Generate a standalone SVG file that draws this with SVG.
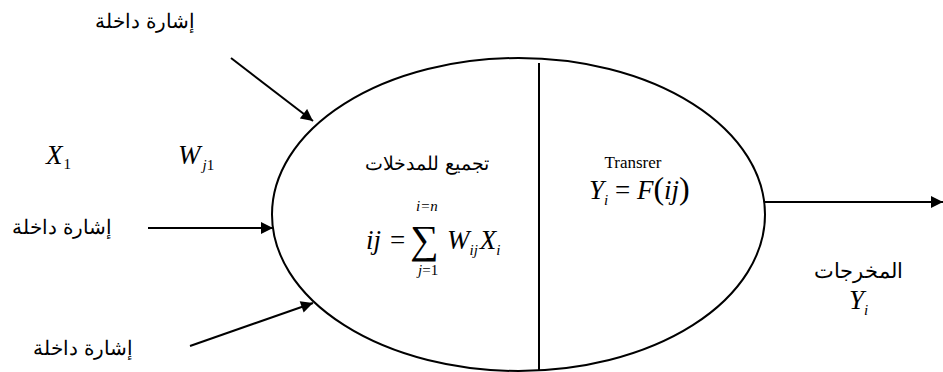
<svg xmlns="http://www.w3.org/2000/svg" width="943" height="372" viewBox="0 0 943 372">
<defs>
<style>
.ar{font-family:"Liberation Sans","Noto Sans",Arial,sans-serif;font-size:20px;fill:#000;}
.m{font-family:"Liberation Serif","Times New Roman",serif;font-size:27px;font-style:italic;fill:#000;}
.mr{font-family:"Liberation Serif","Times New Roman",serif;font-size:27px;font-style:normal;fill:#000;}
.s{font-family:"Liberation Serif","Times New Roman",serif;font-size:15px;font-style:italic;fill:#000;}
.sr{font-family:"Liberation Serif","Times New Roman",serif;font-size:15px;font-style:normal;fill:#000;}
.ln{stroke:#000;stroke-width:2;fill:none;}
</style>
<marker id="ah" viewBox="0 0 10 10" refX="10" refY="5" markerWidth="6.5" markerHeight="6" orient="auto" markerUnits="strokeWidth">
<path d="M0,0 L10,5 L0,10 z" fill="#000"/>
</marker>
</defs>
<rect width="943" height="372" fill="#fff"/>
<g id="neuron">
<ellipse cx="518.5" cy="214.5" rx="246.5" ry="156.5" class="ln"/>
<line x1="539" y1="63" x2="539" y2="371" class="ln"/>
</g>
<g id="connectors">
<line x1="231" y1="58" x2="313" y2="121" class="ln" marker-end="url(#ah)"/>
<line x1="148" y1="228" x2="273" y2="228" class="ln" marker-end="url(#ah)"/>
<line x1="190" y1="346" x2="313" y2="303" class="ln" marker-end="url(#ah)"/>
<line x1="765" y1="202" x2="943" y2="202" class="ln" marker-end="url(#ah)"/>
</g>
<g id="input-labels">
<text class="ar" x="145" y="28" text-anchor="middle" direction="rtl">إشارة داخلة</text>
<text class="ar" x="62" y="234" text-anchor="middle" direction="rtl">إشارة داخلة</text>
<text class="ar" x="83" y="355" text-anchor="middle" direction="rtl">إشارة داخلة</text>
<text class="m" x="46" y="164">X<tspan class="sr" dy="5" dx="1">1</tspan></text>
<text class="m" x="178" y="164">W<tspan class="s" dy="6" dx="2">j</tspan><tspan class="sr">1</tspan></text>
</g>
<g id="summation">
<text class="ar" x="427" y="170" text-anchor="middle" direction="rtl" style="font-size:19px">تجميع  للمدخلات</text>
<text class="m" x="366" y="249">ij</text>
<text class="mr" x="390" y="249">=</text>
<text class="mr" x="410" y="253" style="font-size:40px">∑</text>
<text class="s" x="416" y="211">i=n</text>
<text class="s" x="418" y="275">j<tspan class="sr">=1</tspan></text>
<text class="m" x="447" y="249">W<tspan class="s" dy="6">ij</tspan><tspan dy="-6" dx="2">X</tspan><tspan class="s" dy="6">i</tspan></text>
</g>
<g id="transfer">
<text class="mr" x="633" y="168" text-anchor="middle" style="font-size:17px">Transrer</text>
<text class="m" x="589" y="199">Y<tspan class="s" dy="6">i</tspan><tspan class="mr" dy="-6"> = </tspan>F<tspan class="mr" style="font-size:32px">(</tspan>ij<tspan class="mr" style="font-size:32px">)</tspan></text>
</g>
<g id="output">
<text class="ar" x="858" y="278" text-anchor="middle" direction="rtl" style="font-size:21px">المخرجات</text>
<text class="m" x="849" y="309">Y<tspan class="s" dy="6">i</tspan></text>
</g>
</svg>
